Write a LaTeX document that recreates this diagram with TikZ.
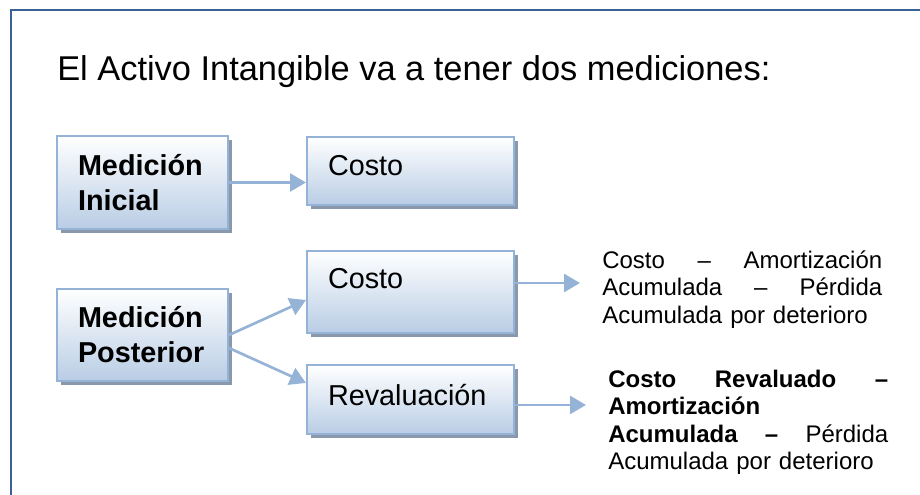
\documentclass[tikz,border=0pt]{standalone}
\usepackage{xcolor}
\usepackage{fontspec}
\setmainfont{Liberation Sans}
\usepackage{tikz}
\usetikzlibrary{shadows,arrows.meta,positioning}

\definecolor{marco}{RGB}{58,96,150}
\definecolor{borde}{RGB}{149,179,215}
\definecolor{fondo}{RGB}{185,205,229}
\definecolor{sombra}{RGB}{138,152,172}
\definecolor{flecha}{RGB}{149,179,215}

\tikzset{
caja/.style={draw=borde, line width=1.5pt, top color=white, bottom color=fondo,
  drop shadow={shadow xshift=3pt, shadow yshift=-3pt, fill=sombra, opacity=1},
  inner xsep=15.75pt, inner ysep=0pt, align=left, font=\fontsize{21.6}{26.25}\selectfont},
flechita/.style={draw=flecha, line width=2pt, -{Triangle[length=12pt,width=13.5pt]}},
formula/.style={inner xsep=16.5pt, inner ysep=0pt, text width=210pt, align=left,
  font=\fontsize{18}{20.6}\selectfont}
}

\begin{document}
\begin{tikzpicture}[x=0.75pt,y=-0.75pt]

\clip (0,0) rectangle (920,495);
\draw[marco, line width=1.5pt] (11,10) rectangle (950,530);

\node[anchor=west, inner sep=0pt, font=\fontsize{25.8}{31}\selectfont] (titulo) at (57,72) {El Activo Intangible va a tener dos mediciones:};

\node[caja, text width=96.75pt, minimum height=69.75pt] (inicial) at (142.5,182.5) {\textbf{Medición}\\\textbf{Inicial}};
\node[caja, text width=123.75pt, minimum height=51pt, text depth=9pt] (costo1) at (410.5,171) {Costo};

\node[caja, text width=96.75pt, minimum height=69pt] (posterior) at (142.5,335) {\textbf{Medición}\\\textbf{Posterior}};
\node[caja, text width=123.75pt, minimum height=61.5pt, text depth=21pt] (costo2) at (410.5,292) {Costo};
\node[caja, text width=123.75pt, minimum height=51.75pt, text depth=6.75pt] (reval) at (410.5,399.5) {Revaluación};

\node[formula, anchor=west] (txtcosto) at (580,289.5) {Costo\hfill–\hfill Amortización\\Acumulada\hfill–\hfill Pérdida\\Acumulada por deterioro};
\node[formula, anchor=west] (txtreval) at (586,422.5) {\textbf{Costo\hfill Revaluado\hfill–}\\\textbf{Amortización}\\\textbf{Acumulada\hfill–}\hfill Pérdida\\Acumulada por deterioro};

% flechas
\draw[flechita] (inicial.east) -- (inicial.east -| costo1.west);
\draw[flechita] (posterior.east) -- ([yshift=-6pt]costo2.west);
\draw[flechita] ([yshift=-9.75pt]posterior.east) -- ([yshift=12.4pt]reval.west);
\draw[flechita] ([yshift=6.75pt]costo2.east) -- ([yshift=6.75pt]costo2.east -| txtcosto.west);
\draw[flechita] ([yshift=-4.1pt]reval.east) -- ([yshift=-4.1pt]reval.east -| txtreval.west);

\end{tikzpicture}
\end{document}
